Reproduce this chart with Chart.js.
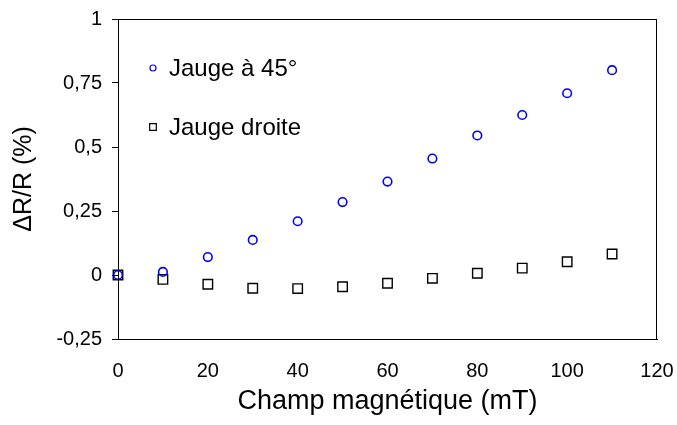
<!DOCTYPE html>
<html>
<head>
<meta charset="utf-8">
<script src="https://cdn.jsdelivr.net/npm/chart.js@4/dist/chart.umd.min.js"></script>
<style>
  html, body { margin: 0; padding: 0; background: #fff; }
  canvas { display: block; }
</style>
</head>
<body>
<canvas id="chart" width="677" height="425"></canvas>
<script>
// magnetic field (mT) and resistance change (%)
const fieldMT = [0, 10, 20, 30, 40, 50, 60, 70, 80, 90, 100, 110];
const jauge45 = [0, 0.012, 0.07, 0.137, 0.21, 0.285, 0.365, 0.455, 0.545, 0.625, 0.71, 0.80];
const jaugeDroite = [0, -0.017, -0.036, -0.052, -0.053, -0.046, -0.032, -0.013, 0.007, 0.027, 0.052, 0.082];
const seriesNames = ["Jauge à 45°", "Jauge droite"];
const xTitle = "Champ magnétique (mT)";
const yTitle = "ΔR/R (%)";

const FONT = "'Liberation Sans', Arial, sans-serif";

const toPoints = (ys) => fieldMT.map((x, i) => ({ x: x, y: ys[i] }));

// box around the plot area
const framePlugin = {
  id: "frame",
  afterDatasetsDraw(chart) {
    const { ctx, chartArea: a } = chart;
    ctx.save();
    ctx.strokeStyle = "#000";
    ctx.lineWidth = 1;
    ctx.strokeRect(Math.round(a.left) + 0.5, Math.round(a.top) + 0.5,
      Math.round(a.right - a.left) - 1, Math.round(a.bottom - a.top));
    ctx.restore();
  }
};

// legend drawn inside the plot, top left
const insideLegend = {
  id: "insideLegend",
  afterDraw(chart) {
    const { ctx, chartArea: a } = chart;
    const sizes = [3, 4.7];
    ctx.save();
    chart.data.datasets.forEach((ds, i) => {
      const mx = a.left + 35;
      const my = a.top + 49 + i * 59;
      ctx.strokeStyle = ds.borderColor;
      ctx.fillStyle = "rgba(0,0,0,0)";
      ctx.lineWidth = 1.2;
      Chart.helpers.drawPoint(ctx, { pointStyle: ds.pointStyle, radius: sizes[i], borderWidth: 1.2, rotation: 0 }, mx, my);
      ctx.fillStyle = "#000";
      ctx.font = "24px " + FONT;
      ctx.textBaseline = "middle";
      ctx.textAlign = "left";
      ctx.fillText(ds.label, mx + 16, my + 1);
    });
    ctx.restore();
  }
};

const config = {
  type: "scatter",
  data: {
    datasets: [
      {
        label: seriesNames[0],
        data: toPoints(jauge45),
        pointStyle: "circle",
        pointRadius: 4.3,
        pointHoverRadius: 4.3,
        borderWidth: 1.6,
        borderColor: "rgb(0,0,255)",
        backgroundColor: "rgba(0,0,0,0)",
        clip: false
      },
      {
        label: seriesNames[1],
        data: toPoints(jaugeDroite),
        pointStyle: "rect",
        pointRadius: 6.7,
        pointHoverRadius: 6.7,
        borderWidth: 1.4,
        borderColor: "#000",
        backgroundColor: "rgba(0,0,0,0)",
        clip: false
      }
    ]
  },
  options: {
    responsive: false,
    devicePixelRatio: 1,
    animation: false,
    layout: { padding: { left: 0, top: 19, right: 20, bottom: 0 } },
    plugins: {
      legend: { display: false },
      tooltip: { enabled: false }
    },
    scales: {
      x: {
        type: "linear",
        min: 0,
        max: 120,
        afterFit: (scale) => {
          scale.height = 86;
          scale.paddingLeft = 0;
          scale.paddingRight = 0;
        },
        grid: { display: false, drawTicks: false },
        border: { display: true, color: "#000", width: 1 },
        ticks: {
          stepSize: 20,
          padding: 20,
          color: "#000",
          font: { family: FONT, size: 20 }
        },
        title: {
          display: true,
          text: xTitle,
          color: "#000",
          font: { family: FONT, size: 27 },
          padding: { top: 0, bottom: 7 }
        }
      },
      y: {
        type: "linear",
        min: -0.25,
        max: 1,
        afterFit: (scale) => {
          scale.width = 118;
          scale.paddingTop = 0;
          scale.paddingBottom = 0;
        },
        grid: { display: true, drawOnChartArea: false, drawTicks: true, tickLength: 6, color: "#000", lineWidth: 1 },
        border: { display: true, color: "#000", width: 1 },
        ticks: {
          stepSize: 0.25,
          padding: 10,
          color: "#000",
          font: { family: FONT, size: 20 },
          callback: (v) => String(v).replace(".", ",")
        },
        title: {
          display: true,
          text: yTitle,
          color: "#000",
          font: { family: FONT, size: 25 },
          padding: { top: 9, bottom: 0 }
        }
      }
    }
  },
  plugins: [framePlugin, insideLegend]
};

new Chart(document.getElementById("chart").getContext("2d"), config);
</script>
</body>
</html>
